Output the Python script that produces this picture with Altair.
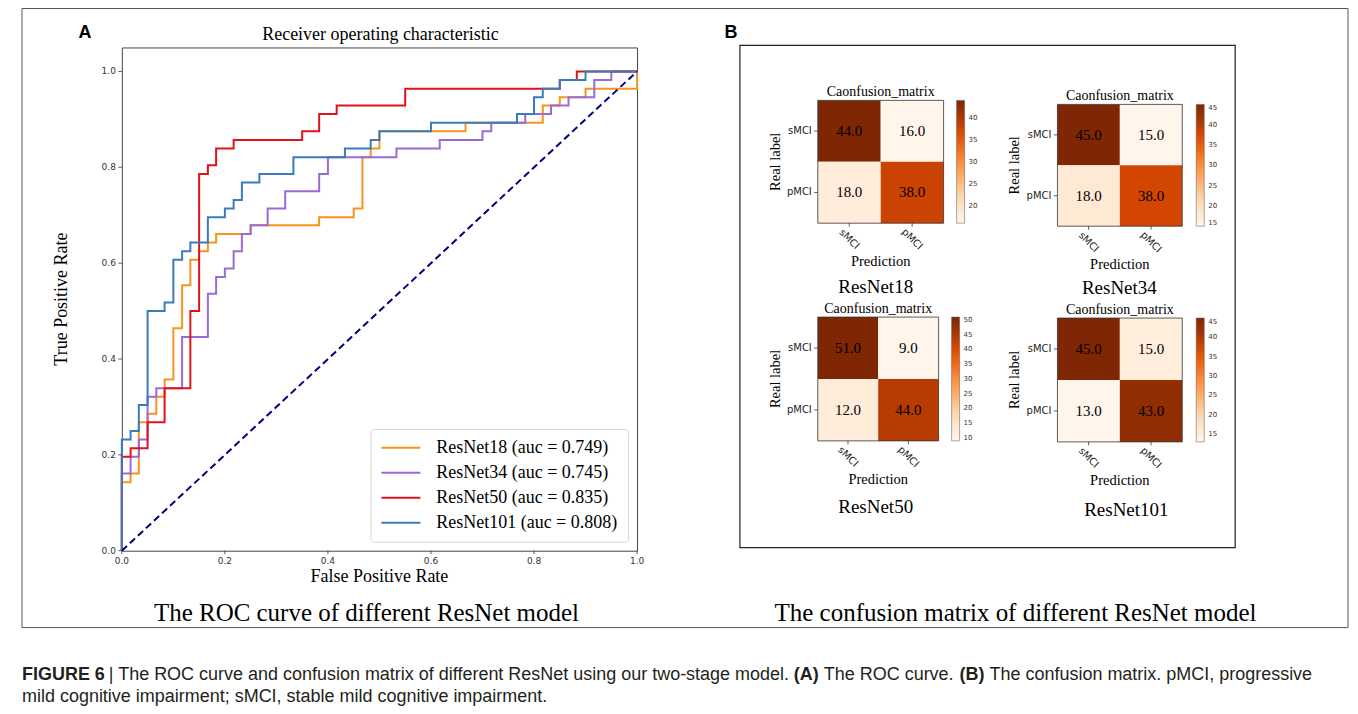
import altair as alt
import pandas as pd

# ---------------- Panel A: ROC curves (operating points) ----------------
model_names = ["ResNet18", "ResNet34", "ResNet50", "ResNet101"]
auc_values = [0.749, 0.745, 0.835, 0.808]
line_colors = ["#f7931e", "#9a6ad6", "#e2121b", "#3a7bbd"]

fpr_18 = [0.0, 0.0, 0.017, 0.033, 0.05, 0.067, 0.083, 0.1, 0.117, 0.133, 0.15, 0.167, 0.183,
          0.25, 0.383, 0.45, 0.467, 0.483, 0.5, 0.667, 0.817, 0.85, 0.9, 1.0]
tpr_18 = [0.0, 0.143, 0.161, 0.268, 0.286, 0.321, 0.357, 0.464, 0.554, 0.607, 0.625, 0.643, 0.661,
          0.679, 0.696, 0.714, 0.821, 0.839, 0.875, 0.893, 0.929, 0.946, 0.964, 1.0]

fpr_34 = [0.0, 0.0, 0.017, 0.033, 0.05, 0.067, 0.117, 0.167, 0.183, 0.2, 0.217, 0.233, 0.25,
          0.283, 0.317, 0.383, 0.4, 0.533, 0.617, 0.7, 0.717, 0.783, 0.833, 0.867, 0.917, 0.95, 1.0]
tpr_34 = [0.0, 0.161, 0.196, 0.232, 0.321, 0.339, 0.446, 0.536, 0.571, 0.589, 0.625, 0.661, 0.679,
          0.714, 0.75, 0.786, 0.821, 0.839, 0.857, 0.875, 0.893, 0.911, 0.929, 0.946, 0.982, 1.0, 1.0]

fpr_50 = [0.0, 0.0, 0.017, 0.05, 0.083, 0.133, 0.15, 0.167, 0.183, 0.217, 0.35, 0.383, 0.417,
          0.55, 0.85, 0.883, 1.0]
tpr_50 = [0.0, 0.196, 0.214, 0.268, 0.339, 0.5, 0.786, 0.804, 0.839, 0.857, 0.875, 0.911, 0.929,
          0.964, 0.982, 1.0, 1.0]

fpr_101 = [0.0, 0.0, 0.017, 0.033, 0.05, 0.083, 0.1, 0.117, 0.133, 0.167, 0.2, 0.217, 0.233,
           0.267, 0.333, 0.433, 0.483, 0.5, 0.6, 0.767, 0.8, 0.817, 0.85, 0.9, 1.0]
tpr_101 = [0.0, 0.232, 0.25, 0.304, 0.5, 0.518, 0.607, 0.625, 0.643, 0.696, 0.714, 0.732, 0.768,
           0.786, 0.821, 0.839, 0.857, 0.875, 0.893, 0.911, 0.946, 0.964, 0.982, 1.0, 1.0]

chance_fpr = [0.0, 1.0]
chance_tpr = [0.0, 1.0]
roc_ticks = [0.0, 0.2, 0.4, 0.6, 0.8, 1.0]

# ---------------- Panel B: confusion matrices (rows = real label, cols = prediction) ----------------
classes = ["sMCI", "pMCI"]
class_pos = [0.5, 1.5]
cm_18 = [[44, 16], [18, 38]]
cm_34 = [[45, 15], [18, 38]]
cm_50 = [[51, 9], [12, 44]]
cm_101 = [[45, 15], [13, 43]]
cbar_ticks_18 = [20, 25, 30, 35, 40]
cbar_ticks_34 = [15, 20, 25, 30, 35, 40, 45]
cbar_ticks_50 = [10, 15, 20, 25, 30, 35, 40, 45, 50]
cbar_ticks_101 = [15, 20, 25, 30, 35, 40, 45]
oranges = ["#fff5eb", "#fee6ce", "#fdd0a2", "#fdae6b", "#fd8d3c",
           "#f16913", "#d94801", "#a63603", "#7f2704"]

SERIF = "Liberation Serif"
SANS = "Liberation Sans"
TICKF = "DejaVu Sans"
W, H = 516, 504          # ROC plot area (x 0..1, y 0..1.05)

one = pd.DataFrame({"k": [0]})


def label(text, x, y, size, font=SERIF, weight="normal", align="center", baseline="middle",
          color="black", angle=0):
    return alt.Chart(one).mark_text(text=text, font=font, fontSize=size, fontWeight=weight,
                                    align=align, baseline=baseline, color=color, angle=angle).encode(
        x=alt.value(x), y=alt.value(y))


def box(x1, y1, x2, y2, color, width):
    return alt.Chart(one).mark_rect(filled=False, stroke=color, strokeWidth=width).encode(
        x=alt.value(x1), x2=alt.value(x2), y=alt.value(y1), y2=alt.value(y2))


# ---------------- ROC layers ----------------
legend_labels = [f"{n} (auc = {a:.3f})" for n, a in zip(model_names, auc_values)]
rows = []
for lab, fx, ty in zip(legend_labels, [fpr_18, fpr_34, fpr_50, fpr_101],
                       [tpr_18, tpr_34, tpr_50, tpr_101]):
    for i, (a, b) in enumerate(zip(fx, ty)):
        rows.append({"model": lab, "fpr": a, "tpr": b, "i": i})
roc_df = pd.DataFrame(rows)

xs_roc = alt.Scale(domain=[0, 1], nice=False, zero=False)
ys_roc = alt.Scale(domain=[0, 1.05], nice=False, zero=False)

roc_lines = alt.Chart(roc_df).mark_line(interpolate="step-after", strokeWidth=2).encode(
    x=alt.X("fpr:Q", scale=xs_roc, axis=None),
    y=alt.Y("tpr:Q", scale=ys_roc, axis=None),
    color=alt.Color("model:N", scale=alt.Scale(domain=legend_labels, range=line_colors),
                    legend=alt.Legend(title=None, orient="bottom-right", offset=9, padding=10,
                                      strokeColor="#d6d6d6", fillColor="white", cornerRadius=3,
                                      labelFont=SERIF, labelFontSize=18, labelColor="black",
                                      labelLimit=400, labelOffset=15, symbolType="stroke",
                                      symbolStrokeWidth=2, symbolSize=1521, clipHeight=18,
                                      rowPadding=7)),
    order=alt.Order("i:Q"),
)

chance = alt.Chart(pd.DataFrame({"fpr": chance_fpr, "tpr": chance_tpr})).mark_line(
    color="#000080", strokeWidth=2, strokeDash=[7, 4]
).encode(x=alt.X("fpr:Q", scale=xs_roc, axis=None), y=alt.Y("tpr:Q", scale=ys_roc, axis=None))

roc_tick_df = pd.DataFrame({"t": roc_ticks})
roc_xticks = alt.Chart(roc_tick_df).mark_rule(color="#333", strokeWidth=0.8).encode(
    x=alt.X("t:Q", scale=xs_roc, axis=None), y=alt.value(H), y2=alt.value(H + 3.5))
roc_xlabels = alt.Chart(roc_tick_df).mark_text(font=TICKF, fontSize=9, color="#333",
                                               baseline="top").encode(
    x=alt.X("t:Q", scale=xs_roc, axis=None), y=alt.value(H + 6),
    text=alt.Text("t:Q", format=".1f"))
roc_yticks = alt.Chart(roc_tick_df).mark_rule(color="#333", strokeWidth=0.8).encode(
    y=alt.Y("t:Q", scale=ys_roc, axis=None), x=alt.value(0), x2=alt.value(-3.5))
roc_ylabels = alt.Chart(roc_tick_df).mark_text(font=TICKF, fontSize=9, color="#333",
                                               align="right", baseline="middle").encode(
    y=alt.Y("t:Q", scale=ys_roc, axis=None), x=alt.value(-6),
    text=alt.Text("t:Q", format=".1f"))

layers = [roc_lines, chance, roc_xticks, roc_xlabels, roc_yticks, roc_ylabels,
          label("False Positive Rate", W / 2, 530, 18),
          label("True Positive Rate", -60, H / 2, 18, angle=270)]


# ---------------- Confusion-matrix panels ----------------
def cm_panel(name, cm, xr, yr, cbx, ticks, cap):
    recs = []
    for r in range(2):
        for c in range(2):
            recs.append({"row": r, "row2": r + 1, "col": c, "col2": c + 1,
                         "rc": r + 0.5, "cc": c + 0.5, "count": cm[r][c]})
    df = pd.DataFrame(recs)
    xs = alt.Scale(domain=[0, 2], range=list(xr), nice=False, zero=False)
    ys = alt.Scale(domain=[0, 2], range=list(yr), nice=False, zero=False)
    flat = [v for row in cm for v in row]
    lo, hi = min(flat), max(flat)
    cdom = [lo + (hi - lo) * k / (len(oranges) - 1) for k in range(len(oranges))]
    cells = alt.Chart(df).mark_rect().encode(
        x=alt.X("col:Q", scale=xs, axis=None), x2=alt.X2("col2"),
        y=alt.Y("row:Q", scale=ys, axis=None), y2=alt.Y2("row2"),
        color=alt.Color("count:Q", scale=alt.Scale(domain=cdom, range=oranges),
                        legend=alt.Legend(orient="none", legendX=cbx, legendY=yr[0], direction="vertical",
                                          title=None, gradientLength=yr[1] - yr[0], gradientThickness=8,
                                          values=ticks, labelFont=TICKF, labelFontSize=7,
                                          labelColor="#333", padding=0, labelOffset=4,
                                          gradientStrokeColor="#555", gradientStrokeWidth=0.5)),
    )
    text = alt.Chart(df).mark_text(font=SERIF, fontSize=15, color="black").encode(
        x=alt.X("cc:Q", scale=xs, axis=None), y=alt.Y("rc:Q", scale=ys, axis=None),
        text=alt.Text("count:Q", format=".1f"))
    frame = alt.Chart(pd.DataFrame({"a": [0], "b": [2]})).mark_rect(
        filled=False, stroke="#333", strokeWidth=0.8).encode(
        x=alt.X("a:Q", scale=xs, axis=None), x2=alt.X2("b"),
        y=alt.Y("a:Q", scale=ys, axis=None), y2=alt.Y2("b"))
    cls = pd.DataFrame({"pos": class_pos, "name": classes})
    yticks = alt.Chart(cls).mark_rule(color="#333", strokeWidth=0.8).encode(
        y=alt.Y("pos:Q", scale=ys, axis=None), x=alt.value(xr[0]), x2=alt.value(xr[0] - 3.5))
    ylabels = alt.Chart(cls).mark_text(font=TICKF, fontSize=10, color="#222", align="right",
                                       baseline="middle").encode(
        y=alt.Y("pos:Q", scale=ys, axis=None), x=alt.value(xr[0] - 6), text="name:N")
    xticks = alt.Chart(cls).mark_rule(color="#333", strokeWidth=0.8).encode(
        x=alt.X("pos:Q", scale=xs, axis=None), y=alt.value(yr[1]), y2=alt.value(yr[1] + 3.5))
    xlabels = alt.Chart(cls).mark_text(font=TICKF, fontSize=10, color="#222", align="center",
                                       baseline="middle", angle=45).encode(
        x=alt.X("pos:Q", scale=xs, axis=None), y=alt.value(yr[1] + 16), text="name:N")
    cx = (xr[0] + xr[1]) / 2
    cy = (yr[0] + yr[1]) / 2
    return [cells, text, frame, yticks, ylabels, xticks, xlabels,
            label("Caonfusion_matrix", cx, yr[0] - 1, 14, baseline="bottom"),
            label("Prediction", cx, yr[1] + 39, 14.5),
            label("Real label", xr[0] - 42, cy, 14.5, angle=270),
            label(name, cap[0], cap[1], 19)]


panel_specs = [
    ("ResNet18", cm_18, (697, 823), (53, 176), 836, cbar_ticks_18, (755, 240)),
    ("ResNet34", cm_34, (937, 1062), (57, 179), 1076, cbar_ticks_34, (999, 241)),
    ("ResNet50", cm_50, (697, 818), (270, 394), 831, cbar_ticks_50, (755, 460)),
    ("ResNet101", cm_101, (937, 1062), (271, 395), 1076, cbar_ticks_101, (1006, 463)),
]
for spec in panel_specs:
    layers += cm_panel(*spec)

CAP = "#231f20"
layers += [
    label("Receiver operating characteristic", 259, -12, 18),
    label("A", -37, -14, 18, font=SANS, weight="bold"),
    label("B", 610, -14, 18, font=SANS, weight="bold"),
    label("The ROC curve of different ResNet model", 245, 566, 25),
    label("The confusion matrix of different ResNet model", 895, 566, 25),
    box(619, -2, 1115, 501, "#222", 1.2),
    box(-100, -39, 1228, 581, "#555", 1),
    label("FIGURE 6", -100, 628, 18, font=SANS, weight="bold", align="left", color=CAP),
    label("| The ROC curve and confusion matrix of different ResNet using our two-stage model.",
          -13, 628, 18, font=SANS, align="left", color=CAP),
    label("(A)", 673, 628, 18, font=SANS, weight="bold", align="left", color=CAP),
    label("The ROC curve.", 703, 628, 18, font=SANS, align="left", color=CAP),
    label("(B)", 839, 628, 18, font=SANS, weight="bold", align="left", color=CAP),
    label("The confusion matrix. pMCI, progressive", 869, 628, 18, font=SANS, align="left",
          color=CAP),
    label("mild cognitive impairment; sMCI, stable mild cognitive impairment.", -100, 651, 18,
          font=SANS, align="left", color=CAP),
]

chart = alt.layer(*layers).resolve_scale(
    x="independent", y="independent", color="independent"
).resolve_legend(color="independent").properties(
    width=W, height=H,
    padding={"left": 114, "top": 39, "right": 714, "bottom": 159},
    autosize=alt.AutoSizeParams(type="none"),
    background="white",
).configure_view(stroke="#444", strokeWidth=1)

chart.save("out.html", embed_options={"renderer": "svg", "actions": False})
